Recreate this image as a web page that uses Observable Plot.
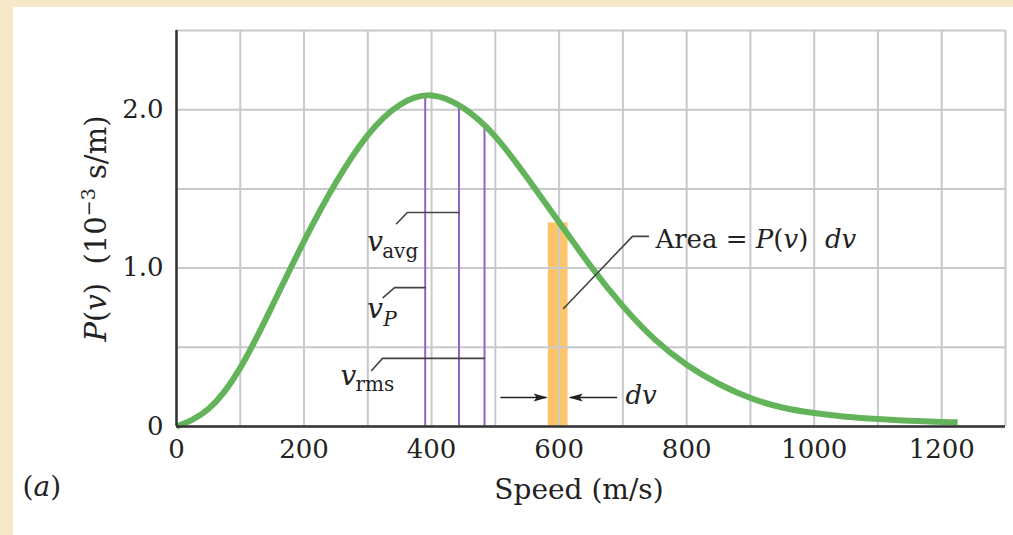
<!DOCTYPE html>
<html><head><meta charset="utf-8">
<script src="https://cdn.jsdelivr.net/npm/d3@7"></script>
<script src="https://cdn.jsdelivr.net/npm/@observablehq/plot@0.6"></script>
<style>
html,body{margin:0;padding:0;background:#f7e9c8;width:1013px;height:535px;overflow:hidden}
#panel{position:absolute;left:13px;top:7px;width:1000px;height:528px;background:#fff}
#panel svg text{white-space:pre}
</style></head><body><div id="panel"></div>
<script>
// Maxwell speed distribution
const speeds = [0,50,100,150,200,250,300,350,400,450,500,550,600,650,700,750,800,850,900,950,1000,1050,1100,1150,1200,1225];
const prob   = [0,0.11,0.37,0.76,1.17,1.54,1.84,2.03,2.09,2.01,1.83,1.57,1.29,1.01,0.76,0.55,0.39,0.27,0.18,0.12,0.085,0.062,0.047,0.036,0.029,0.027];
const markerNames   = ["vP","vavg","vrms"];
const markerSpeeds  = [390, 443, 483];
const markerHeights = [2.09, 2.04, 1.89];
const stripLow = 583, stripHigh = 614, stripHeight = 1.285;
const xTicks = [0,200,400,600,800,1000,1200];
const yTicks = [0,1,2];
const xGrid = [0,100,200,300,400,500,600,700,800,900,1000,1100,1200,1300];
const yGrid = [0,0.5,1,1.5,2,2.5];

const curve = speeds.map((v,i)=>({v, p: prob[i]}));
const markers = markerNames.map((n,i)=>({n, v: markerSpeeds[i], p: markerHeights[i]}));
const strip = [{x1: stripLow, x2: stripHigh, y: stripHeight}];

const ink = "#222";
const leaders = [
  {g:"avg", pts:[[345,1.28],[362,1.351],[443,1.351]]},
  {g:"p",   pts:[[324,0.814],[342,0.877],[390,0.877]]},
  {g:"rms", pts:[[306,0.354],[323,0.43],[483,0.43]]},
  {g:"area",pts:[[607,0.745],[715,1.2],[740,1.2]]}
].flatMap(d=>d.pts.map(([v,p])=>({g:d.g,v,p})));

const arrowHead = {draw(ctx){ctx.moveTo(0,0);ctx.lineTo(-14,-4);ctx.lineTo(-11,0);ctx.lineTo(-14,4);ctx.closePath();}};

const chart = Plot.plot({
  width: 1000, height: 528,
  marginLeft: 163, marginRight: 8, marginTop: 23, marginBottom: 109,
  style: {fontFamily: "DejaVu Serif", fontSize: "26px", color: ink, background: "transparent", overflow: "visible"},
  x: {domain: [0,1300], label: null},
  y: {domain: [0,2.5], label: null},
  marks: [
    Plot.rect(strip, {x1:"x1", x2:"x2", y1:0, y2:"y", fill:"#fdc568"}),
    Plot.gridX(xGrid, {stroke:"#c8c8cd", strokeOpacity:1, strokeWidth:2}),
    Plot.gridY(yGrid, {stroke:"#c8c8cd", strokeOpacity:1, strokeWidth:2}),
    Plot.ruleX(markers, {x:"v", y1:0, y2:"p", stroke:"#9164be", strokeWidth:2}),
    Plot.line(curve, {x:"v", y:"p", stroke:"#63b35a", strokeWidth:6, curve:"natural", strokeLinecap:"butt"}),
    Plot.ruleX([0], {stroke:"#333", strokeWidth:2.5}),
    Plot.ruleY([0], {stroke:"#333", strokeWidth:2.5}),
    Plot.axisX({ticks: xTicks, tickSize:0, tickPadding:13, tickFormat: d=>String(d), fontSize:26}),
    Plot.axisY({ticks: yTicks, tickSize:0, tickPadding:13, tickFormat: d=> d===0 ? "0" : d.toFixed(1), fontSize:26}),
    Plot.line(leaders, {x:"v", y:"p", z:"g", stroke:"#444", strokeWidth:1.6}),
    // dv arrows
    Plot.link([{a:508,b:580},{a:691,b:617}], {x1:"a", x2:"b", y1:0.183, y2:0.183, stroke:"#222", strokeWidth:1.6}),
    Plot.dot([{v:582,r:0},{v:615,r:180}], {x:"v", y:0.183, symbol: arrowHead, rotate:"r", fill:"#222", stroke:"none"}),
    // v labels
    Plot.text([{v:299,p:1.105,t:"v"},{v:299,p:0.682,t:"v"},{v:257,p:0.259,t:"v"}], {x:"v", y:"p", text:"t", textAnchor:"start", lineAnchor:"bottom", fontStyle:"italic", fontSize:28}),
    Plot.text([{v:299,p:1.105,t:"avg"}], {x:"v", y:"p", text:"t", dx:15, dy:7, textAnchor:"start", lineAnchor:"bottom", fontSize:20}),
    Plot.text([{v:299,p:0.682,t:"P"}], {x:"v", y:"p", text:"t", dx:16, dy:8, textAnchor:"start", lineAnchor:"bottom", fontStyle:"italic", fontSize:20}),
    Plot.text([{v:257,p:0.259,t:"rms"}], {x:"v", y:"p", text:"t", dx:15, dy:6, textAnchor:"start", lineAnchor:"bottom", fontSize:20}),
    Plot.text([{v:751,p:1.124,t:"Area = P(v)  dv"}], {x:"v", y:"p", text:"t", textAnchor:"start", lineAnchor:"bottom", fontSize:26, className:"arealab"}),
    Plot.text([{v:704,p:0.145,t:"dv"}], {x:"v", y:"p", text:"t", textAnchor:"start", lineAnchor:"bottom", fontSize:26, fontStyle:"italic"}),
    // outside labels
    Plot.text(["Speed (m/s)"], {frameAnchor:"bottom", text:d=>d, dx:-12, dy:72, lineAnchor:"bottom", fontSize:28}),
    Plot.text(["(a)"], {frameAnchor:"bottom-left", text:d=>d, dx:-154, dy:69, textAnchor:"start", lineAnchor:"bottom", fontSize:28, className:"alab"}),
    Plot.text(["P(v)  (10-3 s/m)"], {frameAnchor:"left", text:d=>d, dx:-80, rotate:-90, textAnchor:"middle", lineAnchor:"middle", fontSize:29, className:"ylab"})
  ]
});
document.getElementById("panel").appendChild(chart);

function richify(sel, parts){
  d3.select(chart).selectAll(sel).each(function(){
    const t = d3.select(this); t.text(null);
    parts.forEach(p=>{
      const s = t.append("tspan").text(p.t);
      if (p.i) s.attr("font-style","italic");
      if (p.fs) s.attr("font-size", p.fs);
      if (p.dy) s.attr("dy", p.dy);
    });
  });
}
richify(".arealab text", [{t:"Area = "},{t:"P",i:1},{t:"("},{t:"v",i:1},{t:")  "},{t:"dv",i:1}]);
richify(".alab text", [{t:"("},{t:"a",i:1},{t:")"}]);
richify(".ylab text", [{t:"P",i:1},{t:"("},{t:"v",i:1},{t:")  (10"},{t:"\u22123",fs:19,dy:-11},{t:" s/m)",dy:11}]);
</script></body></html>
